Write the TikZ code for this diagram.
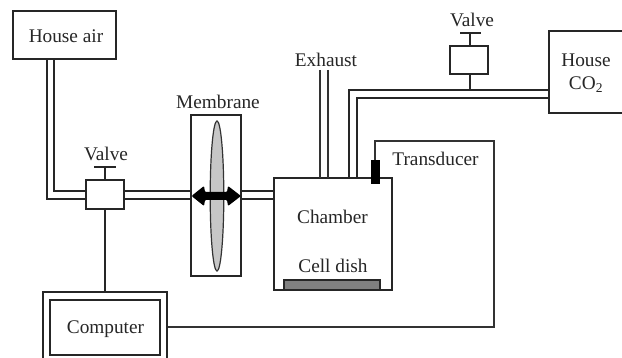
\documentclass[tikz,border=0pt]{standalone}
\usepackage{fontspec}
\setmainfont{Liberation Serif}
\begin{document}
\begin{tikzpicture}[x=1pt,y=-1pt,
  line/.style={draw=black!85,line width=1.7pt},
  thin line/.style={draw=black!80,line width=1.5pt},
  lbl/.style={font=\fontsize{19.3}{21}\selectfont,text=black!85,inner sep=0pt,align=center},
  boxn/.style={line,fill=white,inner sep=0pt}]
\useasboundingbox (0,0) rectangle (622,358);
\clip (0,0) rectangle (622,358);
\coordinate (ha1) at (47,59); \coordinate (ha2) at (54,59);
\coordinate (c1) at (47,199); \coordinate (c2) at (54,191);
\coordinate (ex1a) at (320,70); \coordinate (ex1b) at (320,178);
\coordinate (ex2a) at (328,70); \coordinate (ex2b) at (328,178);
% boxes
\node[boxn,line width=1.9pt,minimum width=103pt,minimum height=48pt] (air) at (64.5,35) {};
\node[lbl] (airt) at (66,36) {House air};
\node[boxn,minimum width=50pt,minimum height=161pt] (mem) at (216,195.5) {};
\node[boxn,minimum width=118pt,minimum height=112pt] (chamber) at (333,234) {};
\node[boxn,minimum width=38pt,minimum height=29pt] (v1) at (105,194.5) {};
\node[boxn,minimum width=38pt,minimum height=28pt] (v2) at (469,60) {};
\node[boxn,minimum width=90pt,minimum height=82pt] (co2) at (594,72) {};
\node[boxn,minimum width=124pt,minimum height=80pt] (compo) at (105,332) {};
\node[boxn,minimum width=110pt,minimum height=55pt] (compi) at (105,327.5) {};
% pipes
\draw[line,line join=miter] (ha1) -- (c1) -- (v1.west |- c1);
\draw[line,line join=miter] (ha2) -- (c2) -- (v1.west |- c2);
\draw[line] (v1.east |- c2) -- (mem.west |- c2);
\draw[line] (v1.east |- c1) -- (mem.west |- c1);
\draw[line] (mem.east |- c2) -- (chamber.west |- c2);
\draw[line] (mem.east |- c1) -- (chamber.west |- c1);
\draw[thin line] (ex1a) -- (ex1b);
\draw[thin line] (ex2a) -- (ex2b);
\draw[line] (349,178) -- (349,90) -- (549,90);
\draw[line] (357,178) -- (357,98) -- (549,98);
% valves
\draw[line] (470,74) -- (470,90);
\draw[line] (470,46) -- (470,33);
\draw[line] (460,33) -- (481,33);
\draw[line] (v1.north) -- (105,167);
\draw[line] (94,167) -- (116,167);
\draw[line] (v1.south) -- (compo.north);
% membrane
\draw[black!80,fill=black!22,line width=1.2pt] (217,196) ellipse [x radius=6.8, y radius=75];
\fill[black,rounded corners=1pt] (191.5,196) -- (204,186) -- (205,192) -- (227,192) -- (228,186) -- (241,196) -- (228,206) -- (227,200) -- (205,200) -- (204,206) -- cycle;
% dish and sensor
\draw[line,fill=black!50] (284,290) rectangle (380,280);
\fill[black] (371,160) rectangle (380,184);
% transducer wire
\draw[thin line] (375,160) -- (375,141) -- (494,141) -- (494,327) -- (compo.east |- 0,327);
% labels
\node[lbl] (t1) at (218,102) {Membrane};
\node[lbl] (t2) at (106,154) {Valve};
\node[lbl] (t3) at (472,20) {Valve};
\node[lbl] (t4) at (326,60) {Exhaust};
\node[lbl] (t5) at (435.5,159) {Transducer};
\node[lbl] (t6) at (332.5,217) {Chamber};
\node[lbl] (t7) at (333,266) {Cell dish};
\node[lbl] (t8) at (105.5,329) {Computer};
\node[lbl] (t9) at (586,60) {House};
\node[lbl] (t10) at (586,85) {CO\textsubscript{2}};
\end{tikzpicture}
\end{document}
